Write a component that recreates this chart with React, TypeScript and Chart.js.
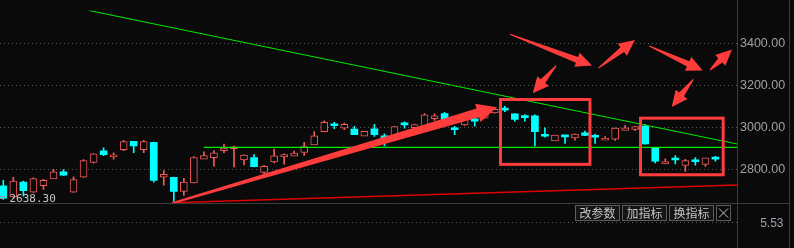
import React, { useEffect, useRef } from 'react';
import { Chart, registerables } from 'chart.js';
Chart.register(...registerables);

// ---- data (daily candles, index 0..71) ----
const opens = [2720,2667,2738,2690,2721,2753,2788,2690,2762,2833, 2888,2859,2894,2933,2894,2929,2762,2761,2694,2735, 2848,2855,2889,2898,2845,2856,2785,2835,2859,2862, 2880,2916,2980,3010,2996,2992,2958,2994,2960,2957, 3014,2999,3005,3042,3066,2991,3012,3041,3045,3070, 3093,3065,3049,3056,2960,2936,2957,2950,2974,2962, 2939,2944,2986,2991,3007,2900,2826,2853,2818,2838, 2823,2856];
const highs = [2747,2761,2743,2759,2752,2800,2798,2764,2846,2875, 2902,2879,2938,2934,2938,2930,2793,2762,2756,2861, 2883,2889,2920,2911,2869,2870,2818,2897,2874,2887, 2929,2980,3032,3024,3021,3005,2982,3015,2970,3005, 3027,3016,3066,3065,3073,3005,3048,3056,3066,3090, 3101,3066,3062,3060,2998,2964,2962,2969,2983,2968, 2956,2998,3009,3005,3014,2901,2850,2865,2847,2856, 2855,2862];
const lows = [2656,2662,2671,2689,2703,2753,2770,2689,2761,2829, 2865,2848,2889,2879,2879,2738,2724,2647,2675,2734, 2848,2815,2879,2811,2821,2811,2778,2830,2824,2862, 2866,2916,2980,2994,2989,2965,2958,2957,2912,2957, 2997,2997,3004,3034,3035,2966,3010,3006,3044,3068, 3075,3030,3030,2912,2953,2936,2924,2939,2961,2924, 2939,2938,2986,2985,2920,2830,2825,2826,2789,2820, 2814,2839];
const closes = [2662,2743,2697,2755,2747,2788,2771,2750,2841,2874, 2870,2867,2932,2912,2932,2747,2776,2694,2738,2856, 2865,2879,2901,2905,2868,2812,2814,2864,2870,2877, 2909,2960,3024,3008,3015,2966,2982,2966,2939,3004, 3012,3014,3060,3056,3036,2989,3045,3030,3063,3087, 3083,3039,3047,2980,2958,2964,2955,2968,2962,2953, 2945,2997,2998,3004,2921,2838,2837,2844,2841,2836, 2855,2848];

const priceTicks = [2800, 3000, 3200, 3400];
const priceMin = 2638.3;
const priceMax = 3560;
const indexMin = -0.33;
const indexMax = 73.15;

const lowerPaneLabel = '5.53';
const buttonLabels = ['改参数', '加指标', '换指标'];

// drawn annotations, in (index, price)
const trendDown = [[8.54, 3560], [73.15, 2921]];
const supportLevel = 2904.7;
const supportFrom = 20.0;
const redBaseLine = [[16.82, 2639.5], [73.15, 2724.4]];
const bigArrow = [16.82, 2637.5, 49.22, 3096.7];
const boxes = [[49.57, 3133.9, 58.49, 2823.4], [63.53, 3044.5, 71.77, 2773.5]];
const smallArrows = [
  [50.52, 3446.3, 58.69, 3296.5],
  [55.1, 3295.1, 52.78, 3163.4],
  [59.33, 3284.2, 62.98, 3419.0],
  [64.41, 3390.4, 69.73, 3272.4],
  [68.79, 3229.7, 66.64, 3098.1],
  [70.46, 3275.1, 72.65, 3373.6],
];

const BG = '#0a0a0a';
const RED = '#f25a5a';
const CYAN = '#00ffff';
const GREEN = '#00ee00';
const MARK = '#ff3c3c';
const GRID = '#5a5a5a';
const FRAME = '#3c3c3c';

function drawArrow(ctx: CanvasRenderingContext2D, x1: number, y1: number, x2: number, y2: number,
  tailHW: number, shaftHW: number, headLen: number, headHW: number) {
  const dx = x2 - x1, dy = y2 - y1;
  const len = Math.hypot(dx, dy);
  const ux = dx / len, uy = dy / len;
  const nx = -uy, ny = ux;
  const bx = x2 - ux * headLen, by = y2 - uy * headLen;
  ctx.beginPath();
  ctx.moveTo(x1 + nx * tailHW, y1 + ny * tailHW);
  ctx.lineTo(bx + nx * shaftHW, by + ny * shaftHW);
  ctx.lineTo(bx + nx * headHW, by + ny * headHW);
  ctx.lineTo(x2, y2);
  ctx.lineTo(bx - nx * headHW, by - ny * headHW);
  ctx.lineTo(bx - nx * shaftHW, by - ny * shaftHW);
  ctx.lineTo(x1 - nx * tailHW, y1 - ny * tailHW);
  ctx.closePath();
  ctx.fill();
}

const overlay = {
  id: 'overlay',
  beforeDraw(chart: any) {
    const { ctx, width, height } = chart;
    ctx.save();
    ctx.fillStyle = BG;
    ctx.fillRect(0, 0, width, height);
    ctx.restore();
  },
  afterDatasetsDraw(chart: any) {
    const { ctx } = chart;
    const xs = chart.scales.x, ys = chart.scales.y;
    const px = (v: number) => xs.getPixelForValue(v);
    const py = (v: number) => ys.getPixelForValue(v);
    ctx.save();
    ctx.strokeStyle = MARK;
    ctx.lineWidth = 3;
    boxes.forEach(([a, b, c, d]) => {
      ctx.strokeRect(px(a), py(b), px(c) - px(a), py(d) - py(b));
    });
    ctx.fillStyle = MARK;
    const [a1, b1, a2, b2] = bigArrow;
    drawArrow(ctx, px(a1), py(b1), px(a2), py(b2), 1, 4.5, 20, 9.5);
    smallArrows.forEach(([a, b, c, d]) => {
      drawArrow(ctx, px(a), py(b), px(c), py(d), 0.6, 3, 16, 7.5);
    });
    ctx.restore();
  },
  afterDraw(chart: any) {
    const { ctx, chartArea } = chart;
    const ys = chart.scales.y;
    ctx.save();
    ctx.strokeStyle = FRAME;
    ctx.lineWidth = 1;
    ctx.beginPath();
    ctx.moveTo(chartArea.right + 0.5, 0); ctx.lineTo(chartArea.right + 0.5, 248);
    ctx.moveTo(789.5, 0); ctx.lineTo(789.5, 248);
    ctx.moveTo(0, chartArea.bottom + 0.5); ctx.lineTo(789.5, chartArea.bottom + 0.5);
    ctx.stroke();
    ctx.strokeStyle = GRID;
    ctx.setLineDash([1, 3]);
    ctx.beginPath();
    ctx.moveTo(0, 222.5); ctx.lineTo(chartArea.right, 222.5);
    ctx.stroke();
    ctx.setLineDash([]);
    ctx.fillStyle = '#98a0aa';
    ctx.font = '12px "Liberation Sans"';
    ctx.textAlign = 'right';
    ctx.textBaseline = 'middle';
    ctx.fillText(lowerPaneLabel, 783.5, 223.5);
    ctx.fillStyle = '#c8c8c8';
    ctx.font = '11px "DejaVu Sans Mono"';
    ctx.textAlign = 'left';
    ctx.textBaseline = 'alphabetic';
    ctx.fillText(ys.min.toFixed(2), 9.5, 202);
    ctx.strokeStyle = '#9a9a9a';
    ctx.beginPath();
    ctx.moveTo(0, 196.5); ctx.lineTo(6, 196.5);
    ctx.moveTo(0, 198.5); ctx.lineTo(4, 198.5);
    ctx.stroke();
    const btnX = [575.5, 622.5, 669.5];
    ctx.font = '12px "Noto Sans CJK SC"';
    ctx.textAlign = 'center';
    ctx.textBaseline = 'middle';
    buttonLabels.forEach((t, i) => {
      ctx.fillStyle = '#151515';
      ctx.fillRect(btnX[i], 205.5, 44, 15);
      ctx.strokeStyle = '#5e5e5e';
      ctx.strokeRect(btnX[i], 205.5, 44, 15);
      ctx.fillStyle = '#c4c4c4';
      ctx.fillText(t, btnX[i] + 22, 213.5);
    });
    ctx.strokeStyle = '#5e5e5e';
    ctx.strokeRect(716.5, 205.5, 14, 15);
    ctx.strokeStyle = '#c4c4c4';
    ctx.beginPath();
    ctx.moveTo(719, 208.5); ctx.lineTo(728, 217.5);
    ctx.moveTo(728, 208.5); ctx.lineTo(719, 217.5);
    ctx.stroke();
    ctx.restore();
  },
};

export default function App() {
  const ref = useRef<HTMLCanvasElement>(null);
  useEffect(() => {
    document.body.style.margin = '0';
    document.body.style.background = BG;
    const idx = opens.map((_, i) => i);
    const isUp = (i: number) => closes[i] >= opens[i];
    const upperWick = idx.filter(i => highs[i] > Math.max(opens[i], closes[i]));
    const lowerWick = idx.filter(i => lows[i] < Math.min(opens[i], closes[i]));
    const chart = new Chart(ref.current as HTMLCanvasElement, {
      type: 'bar',
      data: {
        datasets: [
          {
            type: 'line', data: trendDown.map(([x, y]) => ({ x, y })),
            borderColor: GREEN, borderWidth: 1, pointRadius: 0, order: 1,
          } as any,
          {
            type: 'line', data: [{ x: supportFrom, y: supportLevel }, { x: indexMax, y: supportLevel }],
            borderColor: GREEN, borderWidth: 1.2, pointRadius: 0, order: 1,
          } as any,
          {
            type: 'line', data: redBaseLine.map(([x, y]) => ({ x, y })),
            borderColor: '#e00000', borderWidth: 1.5, pointRadius: 0, order: 1,
          } as any,
          {
            type: 'bar', data: idx.map(i => ({ x: i, y: [opens[i], closes[i]] })),
            backgroundColor: idx.map(i => (isUp(i) ? BG : CYAN)),
            borderColor: idx.map(i => (isUp(i) ? RED : CYAN)),
            borderWidth: idx.map(i => (isUp(i) ? 1 : 0)),
            borderSkipped: false, barThickness: 7, grouped: false, minBarLength: 2, order: 3,
          } as any,
          {
            type: 'bar', data: upperWick.map(i => ({ x: i, y: [Math.max(opens[i], closes[i]), highs[i]] })),
            backgroundColor: upperWick.map(i => (isUp(i) ? RED : CYAN)),
            borderWidth: 0, barThickness: 1, grouped: false, order: 4,
          } as any,
          {
            type: 'bar', data: lowerWick.map(i => ({ x: i, y: [lows[i], Math.min(opens[i], closes[i])] })),
            backgroundColor: lowerWick.map(i => (isUp(i) ? RED : CYAN)),
            borderWidth: 0, barThickness: 1, grouped: false, order: 4,
          } as any,
        ],
      },
      options: {
        animation: false,
        responsive: false,
        devicePixelRatio: 1,
        events: [],
        layout: { padding: { top: 0, left: 0, right: 0, bottom: 45 } },
        plugins: { legend: { display: false }, tooltip: { enabled: false } },
        scales: {
          x: { type: 'linear', min: indexMin, max: indexMax, offset: false, display: false },
          y: {
            type: 'linear', position: 'right', min: priceMin, max: priceMax,
            afterBuildTicks: (s: any) => { s.ticks = priceTicks.map(v => ({ value: v })); },
            afterFit: (s: any) => { s.width = 57; },
            ticks: {
              callback: (v: any) => Number(v).toFixed(2),
              color: '#a0a0a0', font: { family: 'Liberation Sans', size: 12.5 }, padding: 3,
            },
            grid: { color: GRID, lineWidth: 1, drawTicks: false },
            border: { display: false, dash: [1, 3] },
          },
        },
      } as any,
      plugins: [overlay],
    });
    return () => chart.destroy();
  }, []);
  return (
    <div style={{ width: 794, height: 248, background: BG }}>
      <canvas ref={ref} width={794} height={248} style={{ display: 'block' }} />
    </div>
  );
}
